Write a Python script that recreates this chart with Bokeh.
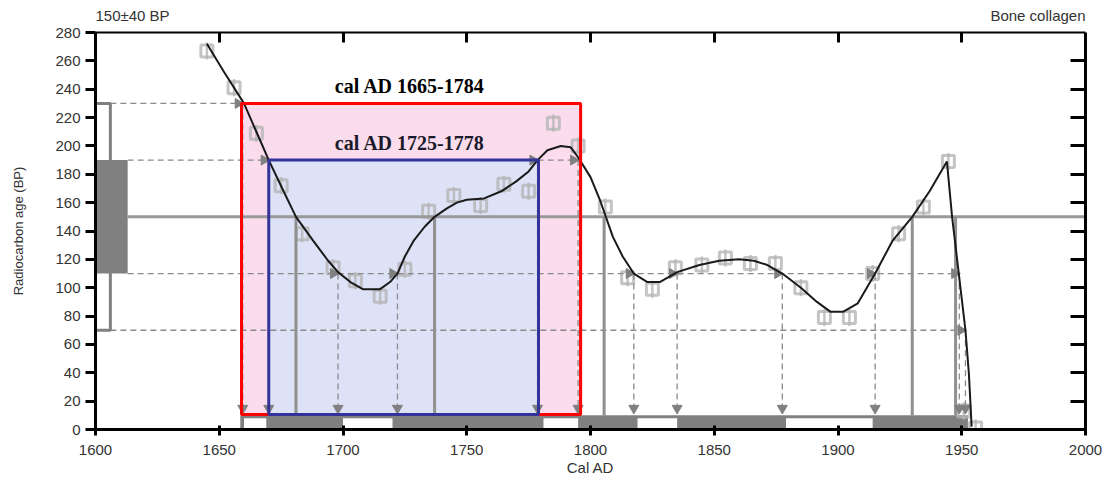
import math
from bokeh.plotting import figure
from bokeh.layouts import column
from bokeh.models import LinearAxis, Range1d, FixedTicker, Label
from bokeh.core.properties import value
from bokeh.embed import file_html
from bokeh.resources import INLINE

# ---------------- data ----------------
x_ticks = [1600, 1650, 1700, 1750, 1800, 1850, 1900, 1950, 2000]
y_ticks = [0, 20, 40, 60, 80, 100, 120, 140, 160, 180, 200, 220, 240, 260, 280]
top_ticks = [1650, 1700, 1750, 1800, 1850, 1900, 1950]
right_ticks = [20, 40, 60, 80, 100, 120, 140, 160, 180, 200, 220, 240, 260]

header_left = "150±40 BP"
header_right = "Bone collagen"

sample_mean = 150
sample_sd = 40

# calibration curve
curve_year = [1645, 1652, 1660, 1665, 1670, 1676, 1681, 1688, 1694, 1698, 1703, 1708,
              1715, 1719, 1722, 1725, 1728.5, 1733, 1737, 1742, 1746, 1750, 1757, 1764,
              1770, 1775, 1778.6, 1782.6, 1788, 1792, 1795, 1800, 1804, 1809, 1813,
              1817.5, 1823, 1828, 1835, 1844, 1852, 1860, 1866, 1871.5, 1877.5, 1885,
              1891.5, 1897, 1902, 1908, 1915, 1922, 1930, 1937, 1944, 1946.1, 1948.8,
              1951.5, 1952.9, 1954]
curve_bp = [272, 252, 230, 210, 190, 168, 150, 133, 119, 111, 104, 99,
            99, 104, 110, 122, 133, 143, 150, 156, 160, 162, 163, 168,
            175, 182, 190, 197, 200, 199, 192, 178, 161, 136, 122,
            110, 104, 104, 111, 116, 119, 120, 119, 116, 110, 100,
            90, 83, 83, 89, 110, 133, 150, 168, 189, 150, 110,
            70, 39, 2]

# calibration data points
cal_year = [1645, 1656, 1665, 1675, 1683.5, 1696, 1705, 1715, 1725, 1734.6, 1744.8,
            1755.6, 1765, 1775, 1785, 1795, 1806, 1815, 1825, 1834.3, 1845, 1854.5,
            1864.6, 1874.7, 1885, 1894.5, 1904.6, 1914, 1924.5, 1934.5, 1944.6,
            1950.8, 1955.6]
cal_bp = [267, 241, 209, 172, 138, 114, 105, 94, 113, 154, 165,
          158, 173, 168, 216, 200, 157, 107, 99, 114, 116, 121,
          117, 117, 100, 79, 79, 110, 138, 157, 189,
          13, 1]
cal_err = [6, 6, 6, 6, 6, 6, 6, 6, 6, 6, 6,
           6, 6, 6, 6, 6, 6, 6, 6, 6, 6, 6,
           6, 6, 6, 6, 6, 6, 6, 6, 6,
           6, 6]

# calibrated ranges (boxes)
range_2s = [1659, 1796]
range_1s = [1670, 1779]
range_base = 10.5
label_2s = "cal AD 1665-1784"
label_1s = "cal AD 1725-1778"

# crossing points of curve with sigma levels
cross_230 = [1659.5]
cross_190 = [1670, 1778.6, 1795]
cross_110 = [1698, 1722, 1817.5, 1835, 1877.5, 1915, 1949]
cross_70 = [1951.5]
cross_mean = [1681, 1737, 1805.5, 1930, 1947.5]

# bottom probability strip
strip_range = [1658.5, 1952.5]
gap_left = [1660, 1700, 1781, 1819, 1879]
gap_right = [1669, 1720, 1795, 1835, 1914]

# sample box widths (years) on left
box2_right = 1606
box1_right = 1613

TICK_FONT = "Liberation Sans"
txt_col = "#333333"

xr = Range1d(1600, 2000)

# ---------------- header strip (texts above the plot) ----------------
head = figure(width=1108, height=24, x_range=xr, y_range=Range1d(0, 1),
              output_backend="svg", toolbar_location=None,
              min_border_left=95, min_border_right=23, min_border_top=0, min_border_bottom=0)
head.axis.visible = False
head.grid.visible = False
head.outline_line_color = None
head.text(x=[x_ticks[0]], y=[0.36], text=[header_left], text_align="left",
          text_baseline="middle", text_font=value(TICK_FONT), text_font_size="15px",
          text_color=txt_col)
head.text(x=[x_ticks[-1]], y=[0.36], text=[header_right], text_align="right",
          text_baseline="middle", text_font=value(TICK_FONT), text_font_size="15px",
          text_color=txt_col)

# ---------------- main figure ----------------
p = figure(width=1108, height=457, x_range=xr, y_range=Range1d(0, 280),
           output_backend="svg", toolbar_location=None,
           min_border_left=95, min_border_right=23, min_border_top=8, min_border_bottom=52)
p.xgrid.visible = False
p.ygrid.visible = False
p.outline_line_color = None
p.background_fill_color = "white"

xa = p.xaxis[0]
xa.ticker = FixedTicker(ticks=x_ticks)
xa.axis_line_width = 3
xa.axis_line_color = "black"
xa.major_tick_line_width = 3
xa.major_tick_in = 4
xa.major_tick_out = 6
xa.minor_tick_line_color = None
xa.major_label_text_font = TICK_FONT
xa.major_label_text_font_size = "15px"
xa.major_label_text_color = txt_col
xa.major_label_standoff = 9
xa.axis_label = "Cal AD"
xa.axis_label_text_font = TICK_FONT
xa.axis_label_text_font_style = "normal"
xa.axis_label_text_font_size = "15px"
xa.axis_label_text_color = txt_col
xa.axis_label_standoff = 1

ya = p.yaxis[0]
ya.ticker = FixedTicker(ticks=y_ticks)
ya.axis_line_width = 3
ya.axis_line_color = "black"
ya.major_tick_line_width = 3
ya.major_tick_in = 0
ya.major_tick_out = 10
ya.minor_tick_line_color = None
ya.major_label_text_font = TICK_FONT
ya.major_label_text_font_size = "15px"
ya.major_label_text_color = txt_col
ya.major_label_standoff = 5
ya.axis_label = "Radiocarbon age (BP)"
ya.axis_label_text_font = TICK_FONT
ya.axis_label_text_font_style = "normal"
ya.axis_label_text_font_size = "13px"
ya.axis_label_text_color = txt_col
ya.axis_label_standoff = 26

top_axis = LinearAxis(ticker=FixedTicker(ticks=top_ticks), axis_line_width=2,
                      major_tick_line_width=3, major_tick_in=10, major_tick_out=0,
                      minor_tick_line_color=None,
                      major_label_overrides={t: "" for t in top_ticks},
                      major_label_text_font_size="1px",
                      major_label_standoff=0)
p.add_layout(top_axis, "above")
right_axis = LinearAxis(ticker=FixedTicker(ticks=right_ticks), axis_line_width=3,
                        major_tick_line_width=3, major_tick_in=15, major_tick_out=0,
                        minor_tick_line_color=None,
                        major_label_overrides={t: "" for t in right_ticks},
                        major_label_text_font_size="1px",
                        major_label_standoff=0)
p.add_layout(right_axis, "right")

gray = "#808080"
light = "#b5b5b5"
dash_col = "#8a8a8a"

# bottom strip
p.quad(left=[strip_range[0]], right=[strip_range[1]], bottom=[0], top=[10],
       fill_color=gray, line_color=None)
p.quad(left=gap_left, right=gap_right, bottom=[0] * len(gap_left), top=[8] * len(gap_left),
       fill_color="white", line_color=None)

# calibrated range rectangles (fills)
p.quad(left=[range_2s[0]], right=[range_2s[1]], bottom=[range_base], top=[sample_mean + 2 * sample_sd],
       fill_color="#fadcec", line_color=None)
p.quad(left=[range_1s[0]], right=[range_1s[1]], bottom=[range_base], top=[sample_mean + sample_sd],
       fill_color="#dde2f7", line_color=None)

# calibration data points (squares with error bars)
p.segment(x0=cal_year, y0=[b - e for b, e in zip(cal_bp, cal_err)],
          x1=cal_year, y1=[b + e for b, e in zip(cal_bp, cal_err)],
          line_color=light, line_width=2.5, line_alpha=0.8)
p.scatter(cal_year, cal_bp, marker="square", size=12, fill_color=None,
          line_color=light, line_width=3, line_alpha=0.8)

# mean line
p.segment(x0=[box1_right], y0=[sample_mean], x1=[2000], y1=[sample_mean],
          line_color="#999999", line_width=3)

# dashed sigma lines
lv_y = [sample_mean + 2 * sample_sd, sample_mean + sample_sd,
        sample_mean - sample_sd, sample_mean - 2 * sample_sd]
lv_x0 = [box2_right, box1_right, box1_right, box2_right]
lv_x1 = [max(cross_230), max(cross_190), max(cross_110), max(cross_70)]
p.segment(x0=lv_x0, y0=lv_y, x1=lv_x1, y1=lv_y, line_color=dash_col,
          line_width=1.3, line_dash="6 4")

all_cross_x = cross_230 + cross_190 + cross_110 + cross_70
all_cross_y = ([lv_y[0]] * len(cross_230) + [lv_y[1]] * len(cross_190) +
               [lv_y[2]] * len(cross_110) + [lv_y[3]] * len(cross_70))
p.segment(x0=all_cross_x, y0=all_cross_y, x1=all_cross_x, y1=[14] * len(all_cross_x),
          line_color=dash_col, line_width=1.3, line_dash="6 4")

# mean intercept lines
p.segment(x0=cross_mean, y0=[sample_mean] * len(cross_mean), x1=cross_mean,
          y1=[10] * len(cross_mean), line_color="#909090", line_width=3)

# arrow heads
p.scatter([x - 1.9 for x in all_cross_x], all_cross_y, marker="triangle", angle=-math.pi / 2,
          size=10, fill_color=gray, line_color=gray)
p.scatter(all_cross_x, [15] * len(all_cross_x), marker="inverted_triangle",
          size=10, fill_color=gray, line_color=gray)

# calibration curve
p.line(curve_year, curve_bp, line_color="#1a1a1a", line_width=2)

# rectangle outlines
p.quad(left=[range_2s[0]], right=[range_2s[1]], bottom=[range_base], top=[sample_mean + 2 * sample_sd],
       fill_color=None, line_color="#ff0000", line_width=3)
p.quad(left=[range_1s[0]], right=[range_1s[1]], bottom=[range_base], top=[sample_mean + sample_sd],
       fill_color=None, line_color="#333399", line_width=3)

# sample boxes on the left
p.quad(left=[1600], right=[box2_right], bottom=[sample_mean - 2 * sample_sd],
       top=[sample_mean + 2 * sample_sd], fill_color="white", line_color=gray, line_width=3)
p.quad(left=[1600], right=[box1_right], bottom=[sample_mean - sample_sd],
       top=[sample_mean + sample_sd], fill_color=gray, line_color=None)

# range labels
p.add_layout(Label(x=1727, y=242, text=label_2s, text_align="center", text_baseline="middle",
                   text_font="Liberation Serif", text_font_style="bold",
                   text_font_size="20px", text_color="black"))
p.add_layout(Label(x=1727, y=202, text=label_1s, text_align="center", text_baseline="middle",
                   text_font="Liberation Serif", text_font_style="bold",
                   text_font_size="20px", text_color="#1a1a2a"))

layout = column(head, p, spacing=0)
open("out.html", "w").write(file_html(layout, INLINE))
